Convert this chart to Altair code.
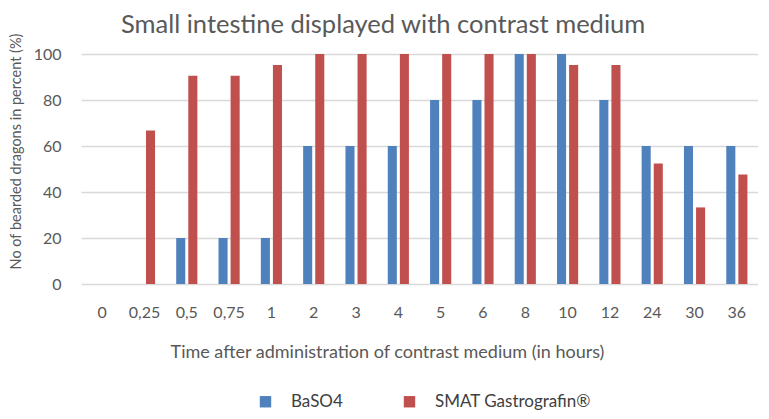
import altair as alt
import pandas as pd

categories = ["0", "0,25", "0,5", "0,75", "1", "2", "3", "4", "5", "6", "8", "10", "12", "24", "30", "36"]
baso4 = [0, 0, 20, 20, 20, 60, 60, 60, 80, 80, 100, 100, 80, 60, 60, 60]
smat = [0, 66.7, 90.5, 90.5, 95.2, 100, 100, 100, 100, 100, 100, 95.2, 95.2, 52.4, 33.3, 47.6]
series = ["BaSO4", "SMAT Gastrografin®"]
colors = ["#4F81BD", "#C0504D"]

rows = []
for c, b, s in zip(categories, baso4, smat):
    rows.append({"time": c, "series": series[0], "value": b})
    rows.append({"time": c, "series": series[1], "value": s})
df = pd.DataFrame(rows)

FONT = "Lato"
GREY = "#595959"

chart = alt.Chart(df).mark_bar().encode(
    x=alt.X("time:N", sort=categories,
            scale=alt.Scale(paddingInner=0.5, paddingOuter=0.25),
            axis=alt.Axis(title="Time after administration of contrast medium (in hours)",
                          labelAngle=0, domain=False, ticks=False, labelPadding=20,
                          labelFontSize=16, labelColor=GREY, labelFont=FONT,
                          titleFontSize=18, titleColor=GREY, titleFont=FONT, titleFontWeight="normal",
                          titlePadding=23, titleX=306)),
    xOffset=alt.XOffset("series:N", sort=series, scale=alt.Scale(paddingInner=0.25)),
    y=alt.Y("value:Q", scale=alt.Scale(domain=[0, 100]),
            axis=alt.Axis(title="No of bearded dragons in percent (%)", values=[0, 20, 40, 60, 80, 100],
                          domain=False, ticks=False, labelPadding=20,
                          labelFontSize=16, labelColor=GREY, labelFont=FONT,
                          gridColor="#D9D9D9", gridWidth=1.3,
                          titleFontSize=14.5, titleColor=GREY, titleFont=FONT, titleFontWeight="normal",
                          titlePadding=10, titleY=97)),
    color=alt.Color("series:N", sort=series,
                    scale=alt.Scale(domain=series, range=colors),
                    legend=alt.Legend(title=None, orient="none", legendX=176, legendY=339,
                                      direction="horizontal", symbolType="square", symbolSize=130,
                                      symbolStrokeWidth=0, columnPadding=58, labelOffset=17,
                                      labelFontSize=17, labelColor="#404040", labelFont=FONT,
                                      padding=0)),
).properties(
    width=677, height=230,
    padding={"left": 0, "right": 0, "top": 5, "bottom": 0},
    title=alt.Title("Small intestine displayed with contrast medium", fontSize=25.5,
                    font=FONT, color=GREY, fontWeight="normal", anchor="middle",
                    frame="bounds", offset=-6),
).configure_view(stroke=None)

chart.save("out.html", embed_options={"renderer": "svg", "actions": False})
